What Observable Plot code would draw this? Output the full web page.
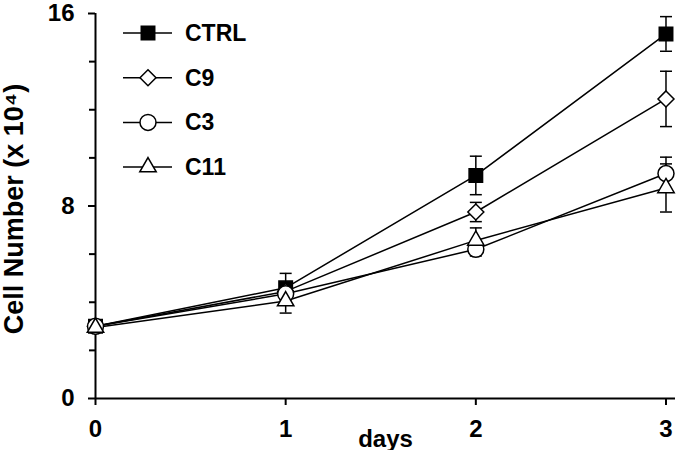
<!DOCTYPE html>
<html>
<head>
<meta charset="utf-8">
<script src="https://cdn.jsdelivr.net/npm/d3@7"></script>
<script src="https://cdn.jsdelivr.net/npm/@observablehq/plot@0.6"></script>
<style>
  html, body { margin: 0; padding: 0; background: #fff; }
  #wrap { position: relative; width: 677px; height: 450px; }
  #legend { position: absolute; left: 0; top: 0; pointer-events: none; }
  text { font-family: "Liberation Sans", Arial, sans-serif; }
</style>
</head>
<body>
<div id="wrap"></div>
<script>
// ---- data ----
const days = [0, 1, 2, 3];
const seriesNames = ["CTRL", "C9", "C3", "C11"];
const ctrl    = [3.0, 4.6, 9.27, 15.15];
const ctrlErr = [0.05, 0.6, 0.8, 0.72];
const c9      = [3.0, 4.45, 7.75, 12.45];
const c9Err   = [0.05, 0.3, 0.4, 1.15];
const c3      = [3.0, 4.35, 6.2, 9.35];
const c3Err   = [0.05, 0.3, 0.28, 0.68];
const c11     = [2.95, 4.05, 6.57, 8.75];
const c11Err  = [0.05, 0.5, 0.52, 1.0];
const yMajorTicks = [0, 8, 16];
const yMinorTicks = [2, 4, 6, 10, 12, 14];
const xTicks = [0, 1, 2, 3];
const xLabel = "days";
const yLabel = "Cell Number (x 10\u2074)";

const values = {CTRL: [ctrl, ctrlErr], C9: [c9, c9Err], C3: [c3, c3Err], C11: [c11, c11Err]};
const style = {
  CTRL: {symbol: "square",   r: 7.6, fill: "black"},
  C9:   {symbol: "diamond2", r: 7.2, fill: "white"},
  C3:   {symbol: "circle",   r: 8,   fill: "white"},
  C11:  {symbol: "triangle", r: 6.1, fill: "white"}
};

const rows = [];
for (const s of seriesNames) {
  const [v, e] = values[s];
  days.forEach((d, i) => rows.push({series: s, day: d, value: v[i], err: e[i]}));
}
const caps = rows.flatMap(d => [{day: d.day, y: d.value - d.err}, {day: d.day, y: d.value + d.err}]);

const capSymbol = { draw(ctx) { ctx.moveTo(-6, 0); ctx.lineTo(6, 0); } };
const font = {fontFamily: "Liberation Sans, Arial, sans-serif", fontWeight: "bold"};

const chart = Plot.plot({
  width: 677, height: 450,
  marginLeft: 95, marginRight: 2, marginTop: 13, marginBottom: 52,
  x: {domain: [0, 3.05], axis: null},
  y: {domain: [0, 16], axis: null},
  style: {background: "white", fontFamily: "Liberation Sans, Arial, sans-serif", color: "black"},
  marks: [
    Plot.ruleY([0], {stroke: "black", strokeWidth: 2}),
    Plot.ruleX([0], {stroke: "black", strokeWidth: 2}),
    Plot.axisY({ticks: yMajorTicks, tickSize: 7, tickPadding: 14, strokeWidth: 2, fontSize: 24, ...font, label: null, tickFormat: d => String(d)}),
    Plot.axisY({ticks: yMinorTicks, tickSize: 6, strokeWidth: 2, label: null, tickFormat: () => ""}),
    Plot.axisX({ticks: xTicks, tickSize: 7, tickPadding: 14, strokeWidth: 2, fontSize: 24, ...font, label: null, tickFormat: d => String(d)}),
    Plot.text([xLabel], {frameAnchor: "bottom", dy: 48, lineAnchor: "bottom", fontSize: 24, ...font, fill: "black"}),
    Plot.text([yLabel], {frameAnchor: "left", textAnchor: "middle", rotate: -90, dx: -81, dy: 3, lineAnchor: "middle", fontSize: 27, ...font, fill: "black"}),
    Plot.line(rows, {x: "day", y: "value", z: "series", stroke: "black", strokeWidth: 1.5}),
    Plot.ruleX(rows, {x: "day", y1: d => d.value - d.err, y2: d => d.value + d.err, stroke: "black", strokeWidth: 1.5}),
    Plot.dot(caps, {x: "day", y: "y", symbol: capSymbol, stroke: "black", strokeWidth: 1.5, r: 6}),
    ...seriesNames.map(s => Plot.dot(rows.filter(d => d.series === s), {
      x: "day", y: "value", symbol: style[s].symbol, r: style[s].r,
      fill: style[s].fill, stroke: "black", strokeWidth: 1.5
    }))
  ]
});
const wrap = document.getElementById("wrap");
wrap.appendChild(chart);

// ---- legend (top-left, inside plot) ----
const lg = d3.select(wrap).append("svg").attr("id", "legend").attr("width", 677).attr("height", 450);
const symMap = {square: d3.symbolSquare, diamond2: d3.symbolDiamond2, circle: d3.symbolCircle, triangle: d3.symbolTriangle};
seriesNames.forEach((s, i) => {
  const y = 33 + i * 44.7;
  const g = lg.append("g").attr("transform", `translate(0,${y})`);
  g.append("line").attr("x1", 123).attr("x2", 172).attr("stroke", "black").attr("stroke-width", 1.5);
  g.append("path").attr("transform", "translate(148,0)")
    .attr("d", d3.symbol(symMap[style[s].symbol], Math.PI * style[s].r ** 2)())
    .attr("fill", style[s].fill).attr("stroke", "black").attr("stroke-width", 1.5);
  g.append("text").attr("x", 185).attr("dy", "0.35em").attr("font-size", 23).attr("font-weight", "bold")
    .attr("fill", "black").text(s);
});
</script>
</body>
</html>
